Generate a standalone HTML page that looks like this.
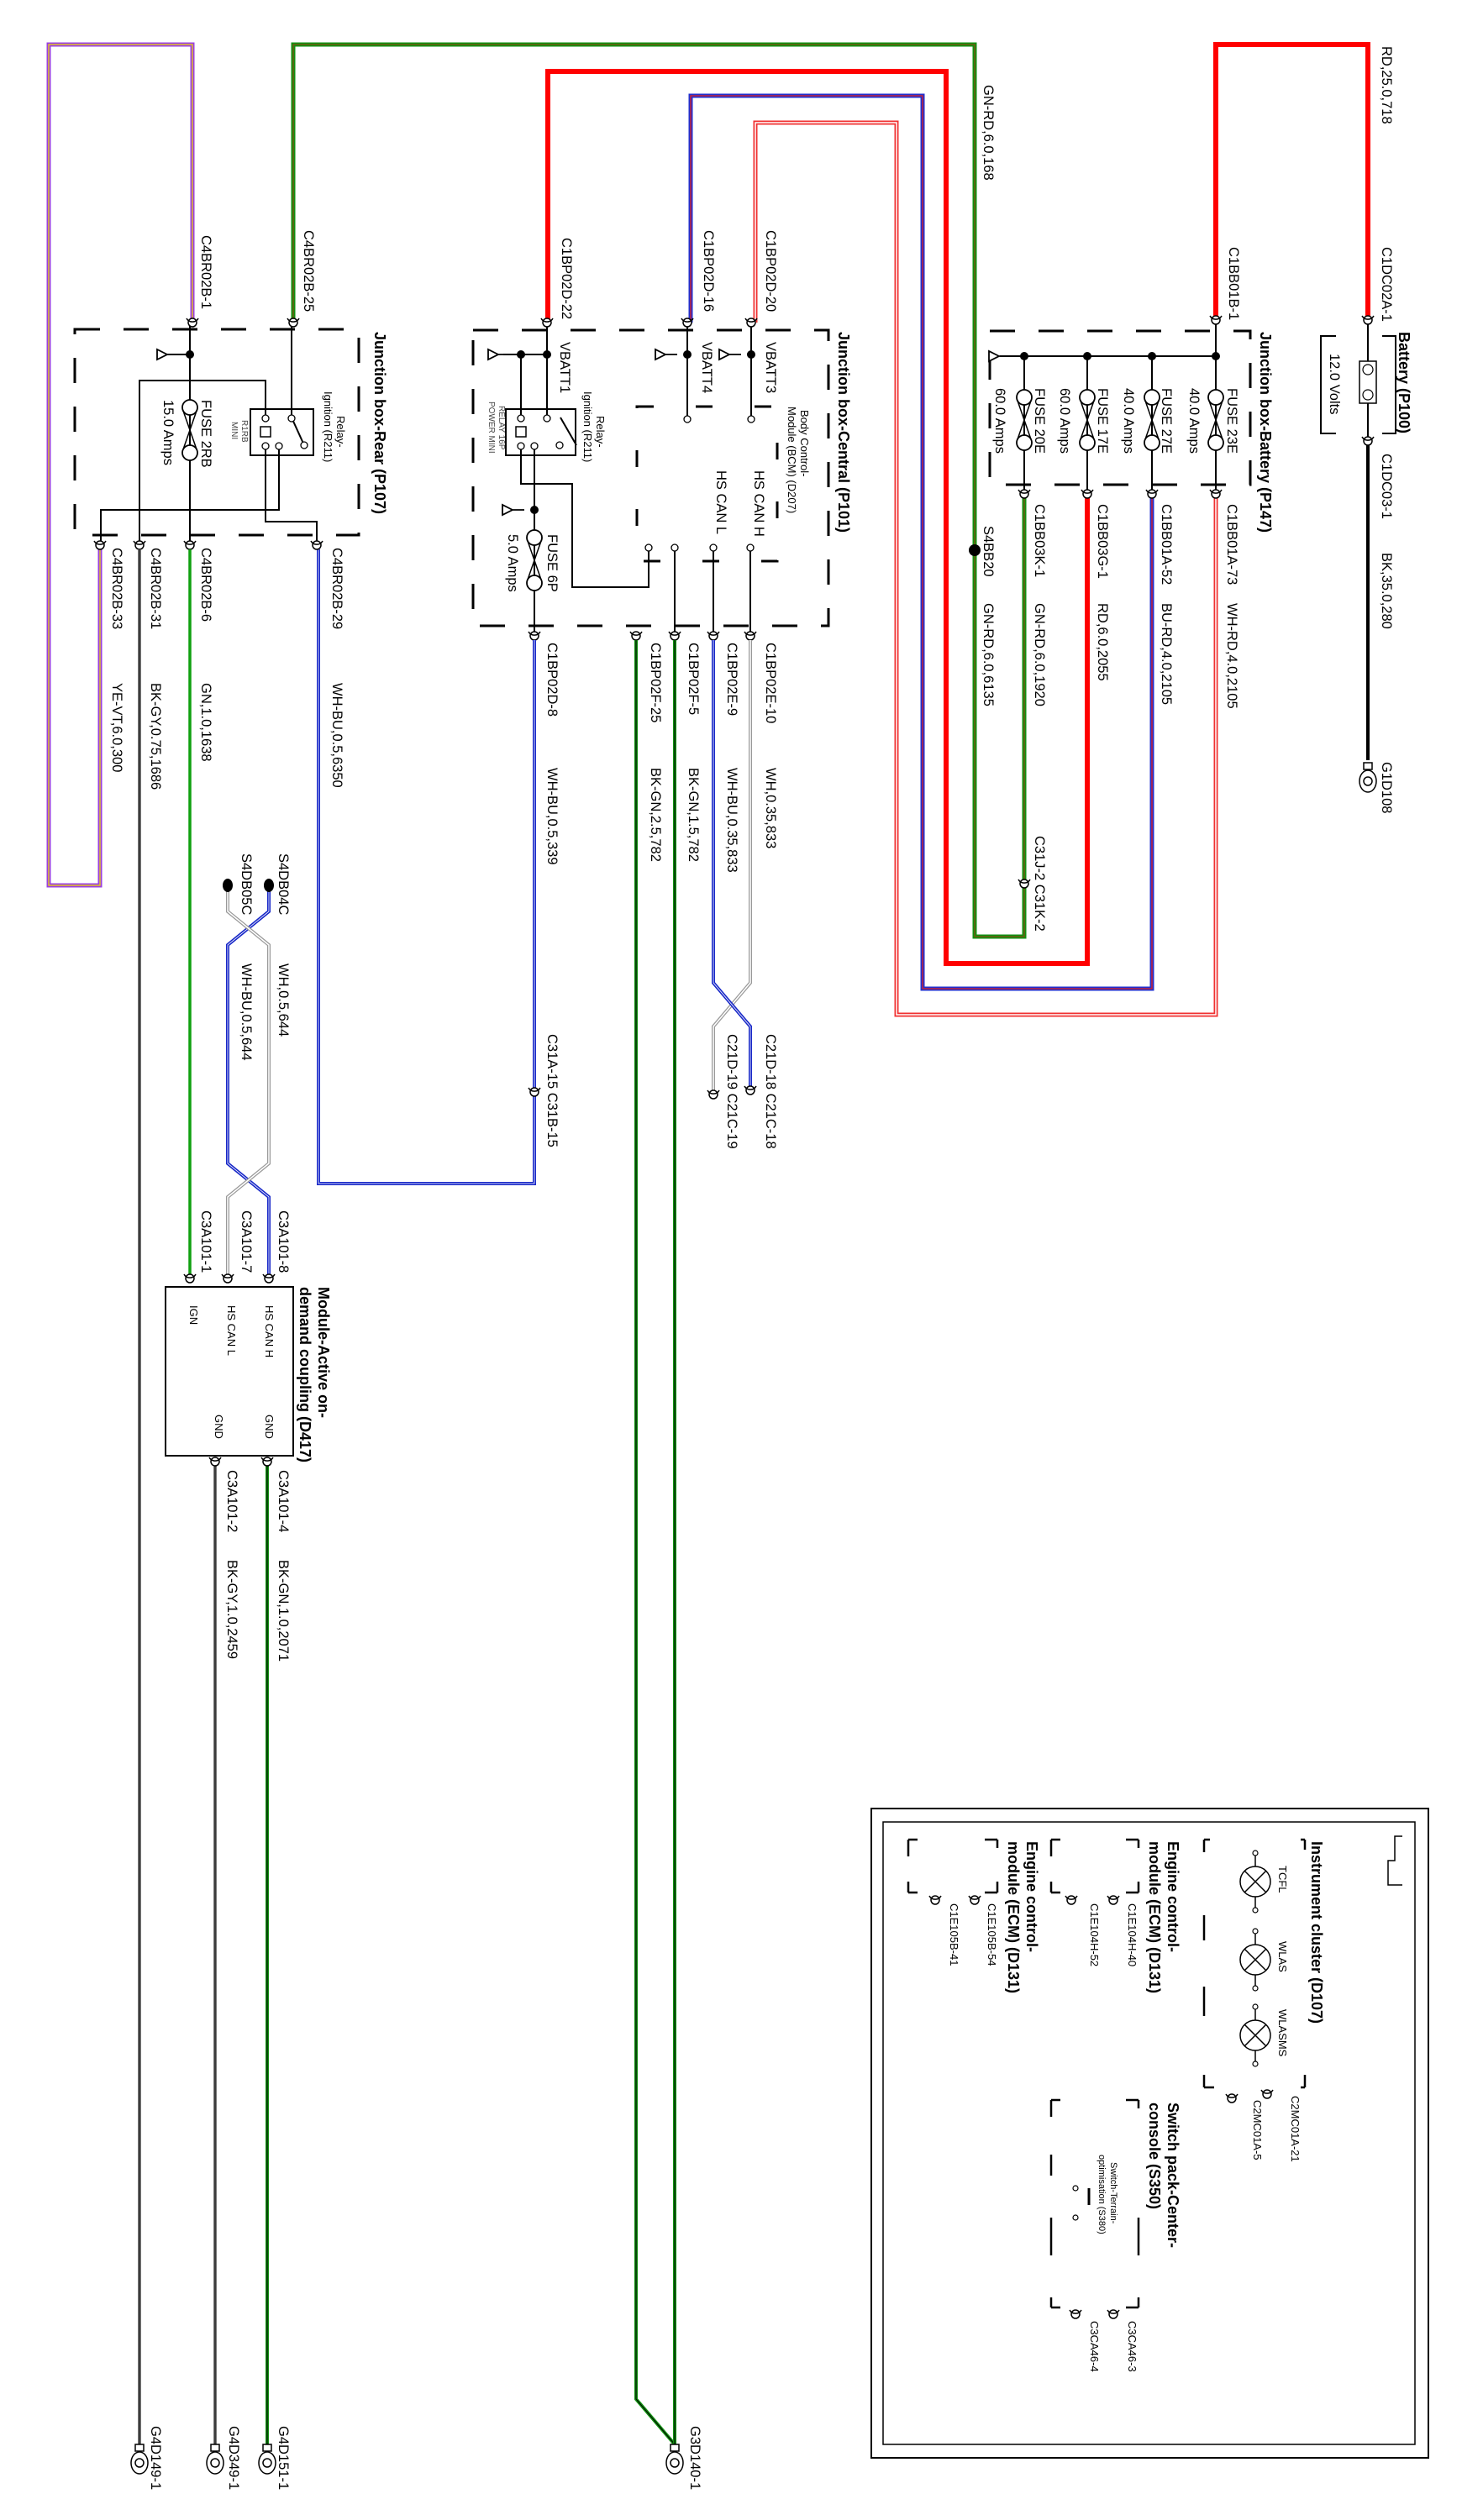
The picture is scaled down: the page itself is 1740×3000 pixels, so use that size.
<!DOCTYPE html>
<html><head><meta charset="utf-8"><style>
html,body{margin:0;padding:0;background:#fff}
svg{display:block}
text{font-family:"Liberation Sans",sans-serif;font-size:16.5px;fill:#000}
.t{font-size:18px;font-weight:bold}
.s{font-size:13px}
.xs{font-size:10px;fill:#444}
.d{fill:none;stroke:#000;stroke-width:3;stroke-dasharray:30 28}
.l{fill:none;stroke:#000;stroke-width:2}
</style></head><body>
<svg width="1740" height="3000" viewBox="0 0 1740 3000" xmlns="http://www.w3.org/2000/svg">
<defs>
<g id="cn"><circle cx="0" cy="0" r="5" fill="#fff" stroke="#000" stroke-width="1.5"/><path d="M-7,-5 A8,8 0 0,0 7,-5" fill="none" stroke="#000" stroke-width="1.5"/></g>
<g id="gnd"><rect x="-5" y="-10" width="10" height="8" fill="#fff" stroke="#000" stroke-width="1.5"/><ellipse cx="0" cy="12" rx="10" ry="13" fill="#fff" stroke="#000" stroke-width="1.5"/><circle cx="0" cy="12" r="5" fill="none" stroke="#000" stroke-width="1.5"/></g>
<g id="arr"><path d="M0,0 H-14 M-14,0 L-26,-6 L-26,6 Z" fill="#fff" stroke="#000" stroke-width="1.8"/></g>
<g id="fuse"><circle cx="0" cy="8" r="9" fill="#fff" stroke="#000" stroke-width="1.8"/><circle cx="0" cy="62" r="9" fill="#fff" stroke="#000" stroke-width="1.8"/><path d="M-8,12 L8,58 M8,12 L-8,58" stroke="#000" stroke-width="1.5"/></g>
</defs>

<!-- YE-VT loop -->
<polyline points="119,649 119,1054 58,1054 58,53 229,53 229,384" fill="none" stroke="#9a40e0" stroke-width="5"/>
<polyline points="119,649 119,1054 58,1054 58,53 229,53 229,384" fill="none" stroke="#f0e000" stroke-width="1.2"/>
<!-- GN-RD 168 -->
<polyline points="349,384 349,53 1160,53 1160,1115 1219,1115 1219,588" fill="none" stroke="#109010" stroke-width="5"/>
<polyline points="349,384 349,53 1160,53 1160,1115 1219,1115 1219,588" fill="none" stroke="#a04010" stroke-width="1"/>
<circle cx="1160" cy="655" r="7" fill="#000"/>
<!-- RD 2055 -->
<polyline points="652,384 652,85 1126,85 1126,1147 1294,1147 1294,588" fill="none" stroke="#f00" stroke-width="6"/>
<!-- BU-RD -->
<polyline points="822,384 822,114 1098,114 1098,1177 1371,1177 1371,588" fill="none" stroke="#2030d0" stroke-width="5"/>
<polyline points="822,384 822,114 1098,114 1098,1177 1371,1177 1371,588" fill="none" stroke="#e02020" stroke-width="1.3"/>
<!-- WH-RD -->
<polyline points="899,384 899,146 1067,146 1067,1208 1447,1208 1447,588" fill="none" stroke="#f03030" stroke-width="5"/>
<polyline points="899,384 899,146 1067,146 1067,1208 1447,1208 1447,588" fill="none" stroke="#fff" stroke-width="1.5"/>
<!-- RD 718 -->
<polyline points="1447,381 1447,53 1628,53 1628,381" fill="none" stroke="#f00" stroke-width="6"/>
<!-- BK 280 -->
<line x1="1628" y1="525" x2="1628" y2="905" stroke="#000" stroke-width="4"/>
<use href="#gnd" x="1628" y="918"/>

<!-- Battery -->
<path d="M1590,400 H1572 V516 H1590 M1645,400 H1661 V516 H1645" class="l" stroke-width="3"/>
<line x1="1628" y1="381" x2="1628" y2="525" stroke="#000" stroke-width="2"/>
<rect x="1618" y="430" width="20" height="50" fill="#fff" stroke="#000" stroke-width="1.5"/>
<circle cx="1628" cy="440" r="6" fill="none" stroke="#000" stroke-width="1.2"/><circle cx="1628" cy="470" r="6" fill="none" stroke="#000" stroke-width="1.2"/>
<use href="#cn" x="1628" y="381"/><use href="#cn" x="1628" y="525"/>
<text class="t" transform="translate(1665,395) rotate(90)">Battery (P100)</text>
<text transform="translate(1583,421) rotate(90)">12.0 Volts</text>
<text transform="translate(1645,55) rotate(90)">RD,25.0,718</text>
<text transform="translate(1645,294) rotate(90)">C1DC02A-1</text>
<text transform="translate(1645,540) rotate(90)">C1DC03-1</text>
<text transform="translate(1645,658) rotate(90)">BK,35.0,280</text>
<text transform="translate(1645,907) rotate(90)">G1D108</text>

<!-- Junction box battery -->
<rect x="1178" y="394" width="310" height="183" class="d"/>
<line x1="1190" y1="424" x2="1447" y2="424" stroke="#000" stroke-width="2"/>
<use href="#arr" x="1203" y="424"/>
<g stroke="#000" stroke-width="2"><line x1="1447" y1="381" x2="1447" y2="588"/><line x1="1371" y1="424" x2="1371" y2="588"/><line x1="1294" y1="424" x2="1294" y2="588"/><line x1="1219" y1="424" x2="1219" y2="588"/></g>
<g fill="#000"><circle cx="1447" cy="424" r="5"/><circle cx="1371" cy="424" r="5"/><circle cx="1294" cy="424" r="5"/><circle cx="1219" cy="424" r="5"/></g>
<use href="#fuse" x="1447" y="465"/><use href="#fuse" x="1371" y="465"/><use href="#fuse" x="1294" y="465"/><use href="#fuse" x="1219" y="465"/>
<use href="#cn" x="1447" y="381"/><use href="#cn" x="1447" y="588"/><use href="#cn" x="1371" y="588"/><use href="#cn" x="1294" y="588"/><use href="#cn" x="1219" y="588"/>
<text class="t" transform="translate(1500,395) rotate(90)">Junction box-Battery (P147)</text>
<text transform="translate(1463,294) rotate(90)">C1BB01B-1</text>
<text transform="translate(1171,101) rotate(90)">GN-RD,6.0,168</text>
<text transform="translate(1461,462) rotate(90)">FUSE 23E</text>
<text transform="translate(1416,462) rotate(90)">40.0 Amps</text>
<text transform="translate(1383,462) rotate(90)">FUSE 27E</text>
<text transform="translate(1338,462) rotate(90)">40.0 Amps</text>
<text transform="translate(1307,462) rotate(90)">FUSE 17E</text>
<text transform="translate(1262,462) rotate(90)">60.0 Amps</text>
<text transform="translate(1232,462) rotate(90)">FUSE 20E</text>
<text transform="translate(1185,462) rotate(90)">60.0 Amps</text>
<text transform="translate(1461,600) rotate(90)">C1BB01A-73</text>
<text transform="translate(1383,600) rotate(90)">C1BB01A-52</text>
<text transform="translate(1307,600) rotate(90)">C1BB03G-1</text>
<text transform="translate(1232,600) rotate(90)">C1BB03K-1</text>
<text transform="translate(1171,626) rotate(90)">S4BB20</text>
<text transform="translate(1461,718) rotate(90)">WH-RD,4.0,2105</text>
<text transform="translate(1383,718) rotate(90)">BU-RD,4.0,2105</text>
<text transform="translate(1307,718) rotate(90)">RD,6.0,2055</text>
<text transform="translate(1232,718) rotate(90)">GN-RD,6.0,1920</text>
<text transform="translate(1171,718) rotate(90)">GN-RD,6.0,6135</text>
<use href="#cn" x="1219" y="1052"/>
<text transform="translate(1232,995) rotate(90)">C31J-2 C31K-2</text>

<!-- Junction box central -->
<rect x="563" y="393" width="423" height="352" class="d"/>
<rect x="758" y="484" width="167" height="184" class="d" style="stroke-dasharray:20 50"/>
<g stroke="#000" stroke-width="2" fill="none">
<line x1="651" y1="384" x2="651" y2="497"/><line x1="620" y1="422" x2="620" y2="497"/><line x1="599" y1="422" x2="651" y2="422"/>
<rect x="602" y="487" width="83" height="55"/>
<line x1="667" y1="497" x2="686" y2="530"/>
<polyline points="620,532 620,576 681,576 681,699 772,699 772,652"/>
<line x1="636" y1="532" x2="636" y2="757"/>
<line x1="818" y1="384" x2="818" y2="497"/><line x1="894" y1="384" x2="894" y2="497"/>
<line x1="893" y1="652" x2="893" y2="757"/><line x1="849" y1="652" x2="849" y2="757"/><line x1="803" y1="652" x2="803" y2="757"/>
</g>
<g fill="#000"><circle cx="651" cy="422" r="5"/><circle cx="620" cy="422" r="5"/><circle cx="818" cy="422" r="5"/><circle cx="894" cy="422" r="5"/><circle cx="636" cy="607" r="5"/></g>
<use href="#arr" x="607" y="422"/><use href="#arr" x="806" y="422"/><use href="#arr" x="882" y="422"/><use href="#arr" x="624" y="607"/>
<rect x="614" y="508" width="12" height="12" fill="#fff" stroke="#000" stroke-width="1.5"/>
<g fill="#fff" stroke="#000" stroke-width="1.3"><circle cx="620" cy="498" r="4"/><circle cx="651" cy="498" r="4"/><circle cx="620" cy="531" r="4"/><circle cx="636" cy="531" r="4"/><circle cx="666" cy="530" r="4"/><circle cx="818" cy="499" r="4"/><circle cx="894" cy="499" r="4"/><circle cx="772" cy="652" r="4"/><circle cx="803" cy="652" r="4"/><circle cx="849" cy="652" r="4"/><circle cx="893" cy="652" r="4"/></g>
<use href="#fuse" x="636" y="632"/>
<use href="#cn" x="651" y="384"/><use href="#cn" x="818" y="384"/><use href="#cn" x="894" y="384"/>
<use href="#cn" x="636" y="757"/><use href="#cn" x="757" y="757"/><use href="#cn" x="803" y="757"/><use href="#cn" x="849" y="757"/><use href="#cn" x="893" y="757"/>
<text class="t" transform="translate(998,395) rotate(90)">Junction box-Central (P101)</text>
<text transform="translate(669,283) rotate(90)">C1BP02D-22</text>
<text transform="translate(838,274) rotate(90)">C1BP02D-16</text>
<text transform="translate(912,274) rotate(90)">C1BP02D-20</text>
<text transform="translate(667,407) rotate(90)">VBATT1</text>
<text transform="translate(836,407) rotate(90)">VBATT4</text>
<text transform="translate(912,407) rotate(90)">VBATT3</text>
<text class="s" transform="translate(953,488) rotate(90)">Body Control-</text>
<text class="s" transform="translate(938,484) rotate(90)">Module (BCM) (D207)</text>
<text transform="translate(898,560) rotate(90)">HS CAN H</text>
<text transform="translate(853,560) rotate(90)">HS CAN L</text>
<text class="s" transform="translate(710,495) rotate(90)">Relay-</text>
<text class="s" transform="translate(695,466) rotate(90)">Ignition (R211)</text>
<text class="xs" transform="translate(594,483) rotate(90)">RELAY 16P</text>
<text class="xs" transform="translate(582,478) rotate(90)">POWER MINI</text>
<text transform="translate(652,636) rotate(90)">FUSE 6P</text>
<text transform="translate(605,636) rotate(90)">5.0 Amps</text>
<text transform="translate(652,765) rotate(90)">C1BP02D-8</text>
<text transform="translate(775,765) rotate(90)">C1BP02F-25</text>
<text transform="translate(820,765) rotate(90)">C1BP02F-5</text>
<text transform="translate(866,765) rotate(90)">C1BP02E-9</text>
<text transform="translate(912,765) rotate(90)">C1BP02E-10</text>

<!-- Central wires down -->
<polyline points="636,762 636,1409 379,1409 379,654" fill="none" stroke="#1828c8" stroke-width="4"/>
<polyline points="379,654 379,1409 636,1409 636,762" fill="none" stroke="#fff" stroke-width="0.8"/>
<use href="#cn" x="636" y="1300"/>
<polyline points="757,762 757,2856 803,2910" fill="none" stroke="#109010" stroke-width="4"/>
<polyline points="757,762 757,2856 803,2910" fill="none" stroke="#000" stroke-width="1"/>
<polyline points="803,762 803,2910" fill="none" stroke="#109010" stroke-width="4"/>
<polyline points="803,762 803,2910" fill="none" stroke="#000" stroke-width="1"/>
<use href="#gnd" x="803" y="2920"/>
<!-- twisted pair central -->
<polyline points="893,762 893,1170 849,1222 849,1298" fill="none" stroke="#999" stroke-width="4"/>
<polyline points="893,762 893,1170 849,1222 849,1298" fill="none" stroke="#fff" stroke-width="1.5"/>
<polyline points="849,762 849,1170 893,1222 893,1298" fill="none" stroke="#1828c8" stroke-width="4"/>
<polyline points="849,762 849,1170 893,1222 893,1298" fill="none" stroke="#fff" stroke-width="0.8"/>
<use href="#cn" x="893" y="1298"/><use href="#cn" x="849" y="1303"/>
<text transform="translate(652,914) rotate(90)">WH-BU,0.5,339</text>
<text transform="translate(775,914) rotate(90)">BK-GN,2.5,782</text>
<text transform="translate(820,914) rotate(90)">BK-GN,1.5,782</text>
<text transform="translate(866,914) rotate(90)">WH-BU,0.35,833</text>
<text transform="translate(912,914) rotate(90)">WH,0.35,833</text>
<text transform="translate(912,1231) rotate(90)">C21D-18 C21C-18</text>
<text transform="translate(866,1231) rotate(90)">C21D-19 C21C-19</text>
<text transform="translate(652,1231) rotate(90)">C31A-15 C31B-15</text>
<text transform="translate(822,2888) rotate(90)">G3D140-1</text>

<!-- Junction box rear -->
<rect x="89" y="392" width="338" height="245" class="d"/>
<g stroke="#000" stroke-width="2" fill="none">
<line x1="226" y1="384" x2="226" y2="649"/><line x1="199" y1="422" x2="226" y2="422"/>
<rect x="298" y="487" width="75" height="55"/>
<line x1="347" y1="384" x2="347" y2="497"/><line x1="347" y1="497" x2="362" y2="530"/>
<polyline points="166,649 166,453 316,453 316,497"/>
<polyline points="120,649 120,607 332,607 332,531"/>
<polyline points="316,531 316,621 377,621 377,649"/>
</g>
<circle cx="226" cy="422" r="5" fill="#000"/><use href="#arr" x="213" y="422"/>
<rect x="310" y="508" width="12" height="12" fill="#fff" stroke="#000" stroke-width="1.5"/>
<g fill="#fff" stroke="#000" stroke-width="1.3"><circle cx="316" cy="498" r="4"/><circle cx="347" cy="498" r="4"/><circle cx="316" cy="531" r="4"/><circle cx="332" cy="531" r="4"/><circle cx="362" cy="530" r="4"/></g>
<use href="#fuse" x="226" y="477"/>
<use href="#cn" x="229" y="384"/><use href="#cn" x="349" y="384"/>
<use href="#cn" x="119" y="649"/><use href="#cn" x="166" y="649"/><use href="#cn" x="226" y="649"/><use href="#cn" x="377" y="649"/>
<text class="t" transform="translate(446,395) rotate(90)">Junction box-Rear (P107)</text>
<text transform="translate(240,280) rotate(90)">C4BR02B-1</text>
<text transform="translate(362,274) rotate(90)">C4BR02B-25</text>
<text class="s" transform="translate(401,495) rotate(90)">Relay-</text>
<text class="s" transform="translate(386,466) rotate(90)">Ignition (R211)</text>
<text class="xs" transform="translate(288,500) rotate(90)">R1RB</text>
<text class="xs" transform="translate(276,502) rotate(90)">MINI</text>
<text transform="translate(240,476) rotate(90)">FUSE 2RB</text>
<text transform="translate(195,476) rotate(90)">15.0 Amps</text>
<text transform="translate(396,652) rotate(90)">C4BR02B-29</text>
<text transform="translate(240,652) rotate(90)">C4BR02B-6</text>
<text transform="translate(180,652) rotate(90)">C4BR02B-31</text>
<text transform="translate(134,652) rotate(90)">C4BR02B-33</text>
<text transform="translate(396,813) rotate(90)">WH-BU,0.5,6350</text>
<text transform="translate(240,813) rotate(90)">GN,1.0,1638</text>
<text transform="translate(180,813) rotate(90)">BK-GY,0.75,1686</text>
<text transform="translate(134,813) rotate(90)">YE-VT,6.0,300</text>

<!-- rear wires -->
<line x1="226" y1="654" x2="226" y2="1522" stroke="#10a010" stroke-width="3.5"/>
<line x1="166" y1="654" x2="166" y2="2910" stroke="#777" stroke-width="4"/>
<line x1="166" y1="654" x2="166" y2="2910" stroke="#000" stroke-width="1"/>
<use href="#gnd" x="166" y="2920"/>
<!-- twisted pair rear -->
<polyline points="320,1054 320,1085 271,1125 271,1385 320,1425 320,1517" fill="none" stroke="#1828c8" stroke-width="4"/>
<polyline points="320,1054 320,1085 271,1125 271,1385 320,1425 320,1517" fill="none" stroke="#fff" stroke-width="0.8"/>
<polyline points="271,1054 271,1085 320,1125 320,1385 271,1425 271,1517" fill="none" stroke="#999" stroke-width="4"/>
<polyline points="271,1054 271,1085 320,1125 320,1385 271,1425 271,1517" fill="none" stroke="#fff" stroke-width="1.5"/>
<ellipse cx="320" cy="1054" rx="6" ry="8" fill="#000"/><ellipse cx="271" cy="1054" rx="6" ry="8" fill="#000"/>
<text transform="translate(332,1016) rotate(90)">S4DB04C</text>
<text transform="translate(288,1016) rotate(90)">S4DB05C</text>
<text transform="translate(332,1147) rotate(90)">WH,0.5,644</text>
<text transform="translate(288,1147) rotate(90)">WH-BU,0.5,644</text>
<use href="#cn" x="320" y="1522"/><use href="#cn" x="271" y="1522"/><use href="#cn" x="226" y="1522"/>
<text transform="translate(332,1441) rotate(90)">C3A101-8</text>
<text transform="translate(288,1441) rotate(90)">C3A101-7</text>
<text transform="translate(240,1441) rotate(90)">C3A101-1</text>

<!-- Module -->
<rect x="197" y="1532" width="152" height="201" fill="#fff" stroke="#000" stroke-width="2"/>
<text class="t" transform="translate(379,1532) rotate(90)">Module-Active on-</text>
<text class="t" transform="translate(357,1532) rotate(90)">demand coupling (D417)</text>
<text class="s" transform="translate(316,1554) rotate(90)">HS CAN H</text>
<text class="s" transform="translate(271,1554) rotate(90)">HS CAN L</text>
<text class="s" transform="translate(226,1554) rotate(90)">IGN</text>
<text class="s" transform="translate(316,1684) rotate(90)">GND</text>
<text class="s" transform="translate(256,1684) rotate(90)">GND</text>
<line x1="318" y1="1740" x2="318" y2="2910" stroke="#109010" stroke-width="4"/>
<line x1="318" y1="1740" x2="318" y2="2910" stroke="#000" stroke-width="1"/>
<line x1="256" y1="1740" x2="256" y2="2910" stroke="#777" stroke-width="4"/>
<line x1="256" y1="1740" x2="256" y2="2910" stroke="#000" stroke-width="1"/>
<use href="#cn" x="318" y="1740"/><use href="#cn" x="256" y="1740"/>
<use href="#gnd" x="318" y="2920"/><use href="#gnd" x="256" y="2920"/>
<text transform="translate(332,1750) rotate(90)">C3A101-4</text>
<text transform="translate(271,1750) rotate(90)">C3A101-2</text>
<text transform="translate(332,1857) rotate(90)">BK-GN,1.0,2071</text>
<text transform="translate(271,1857) rotate(90)">BK-GY,1.0,2459</text>
<text transform="translate(180,2888) rotate(90)">G4D149-1</text>
<text transform="translate(273,2888) rotate(90)">G4D349-1</text>
<text transform="translate(332,2888) rotate(90)">G4D151-1</text>

<!-- Legend -->
<rect x="1037" y="2153" width="663" height="773" fill="none" stroke="#000" stroke-width="2"/>
<rect x="1051" y="2169" width="633" height="741" fill="none" stroke="#000" stroke-width="1.5"/>
<path d="M1669,2186 H1660 V2215 H1652 V2244 H1669" fill="none" stroke="#000" stroke-width="1.5"/>
<g fill="none" stroke="#000" stroke-width="2.5">
<path d="M1553,2190 V2202 M1548,2190 H1553 M1433,2190 V2205 M1433,2190 H1440 M1553,2485 V2470 M1548,2485 H1553 M1433,2485 V2470 M1433,2485 H1445 M1433,2280 V2310 M1433,2365 V2400"/>
<path d="M1355,2190 V2200 M1340,2190 H1355 M1251,2190 V2210 M1251,2190 H1262 M1355,2253 V2240 M1340,2253 H1355 M1251,2253 V2240 M1251,2253 H1262"/>
<path d="M1187,2190 V2200 M1172,2190 H1187 M1081,2190 V2210 M1081,2190 H1092 M1187,2253 V2240 M1172,2253 H1187 M1081,2253 V2240 M1081,2253 H1092"/>
<path d="M1355,2500 V2510 M1340,2500 H1355 M1251,2500 V2520 M1251,2500 H1262 M1355,2747 V2735 M1340,2747 H1355 M1251,2747 V2735 M1251,2747 H1262 M1251,2565 V2590 M1251,2640 V2685 M1355,2640 V2685"/>
</g>
<g fill="#fff" stroke="#000" stroke-width="1.5">
<circle cx="1494" cy="2240" r="18"/><circle cx="1494" cy="2333" r="18"/><circle cx="1494" cy="2423" r="18"/>
</g>
<g stroke="#000" stroke-width="1.5">
<path d="M1481,2227 L1507,2253 M1507,2227 L1481,2253"/><path d="M1481,2320 L1507,2346 M1507,2320 L1481,2346"/><path d="M1481,2410 L1507,2436 M1507,2410 L1481,2436"/>
<line x1="1494" y1="2208" x2="1494" y2="2222"/><line x1="1494" y1="2258" x2="1494" y2="2272"/>
<line x1="1494" y1="2301" x2="1494" y2="2315"/><line x1="1494" y1="2351" x2="1494" y2="2365"/>
<line x1="1494" y1="2391" x2="1494" y2="2405"/><line x1="1494" y1="2441" x2="1494" y2="2455"/>
<line x1="1296" y1="2605" x2="1296" y2="2625" stroke-width="3"/>
</g>
<g fill="#fff" stroke="#000" stroke-width="1.2"><circle cx="1494" cy="2206" r="3"/><circle cx="1494" cy="2274" r="3"/><circle cx="1494" cy="2299" r="3"/><circle cx="1494" cy="2367" r="3"/><circle cx="1494" cy="2389" r="3"/><circle cx="1494" cy="2457" r="3"/><circle cx="1280" cy="2605" r="3"/><circle cx="1280" cy="2640" r="3"/></g>
<use href="#cn" x="1508" y="2493"/><use href="#cn" x="1466" y="2498"/>
<use href="#cn" x="1325" y="2262"/><use href="#cn" x="1275" y="2262"/>
<use href="#cn" x="1160" y="2262"/><use href="#cn" x="1113" y="2262"/>
<use href="#cn" x="1325" y="2755"/><use href="#cn" x="1280" y="2755"/>
<text class="t" transform="translate(1561,2192) rotate(90)">Instrument cluster (D107)</text>
<text class="s" transform="translate(1522,2221) rotate(90)">TCFL</text>
<text class="s" transform="translate(1522,2311) rotate(90)">WLAS</text>
<text class="s" transform="translate(1522,2392) rotate(90)">WLASMS</text>
<text class="s" transform="translate(1537,2495) rotate(90)">C2MC01A-21</text>
<text class="s" transform="translate(1492,2500) rotate(90)">C2MC01A-5</text>
<text class="t" transform="translate(1390,2192) rotate(90)">Engine control-</text>
<text class="t" transform="translate(1368,2192) rotate(90)">module (ECM) (D131)</text>
<text class="s" transform="translate(1343,2266) rotate(90)">C1E104H-40</text>
<text class="s" transform="translate(1298,2266) rotate(90)">C1E104H-52</text>
<text class="t" transform="translate(1222,2192) rotate(90)">Engine control-</text>
<text class="t" transform="translate(1200,2192) rotate(90)">module (ECM) (D131)</text>
<text class="s" transform="translate(1176,2266) rotate(90)">C1E105B-54</text>
<text class="s" transform="translate(1131,2266) rotate(90)">C1E105B-41</text>
<text class="t" transform="translate(1390,2503) rotate(90)">Switch pack-Center-</text>
<text class="t" transform="translate(1368,2503) rotate(90)">console (S350)</text>
<text style="font-size:11px" transform="translate(1322,2574) rotate(90)">Switch-Terrain-</text>
<text style="font-size:11px" transform="translate(1308,2565) rotate(90)">optimisation (S380)</text>
<text class="s" transform="translate(1343,2763) rotate(90)">C3CA46-3</text>
<text class="s" transform="translate(1298,2763) rotate(90)">C3CA46-4</text>
</svg>
</body></html>
